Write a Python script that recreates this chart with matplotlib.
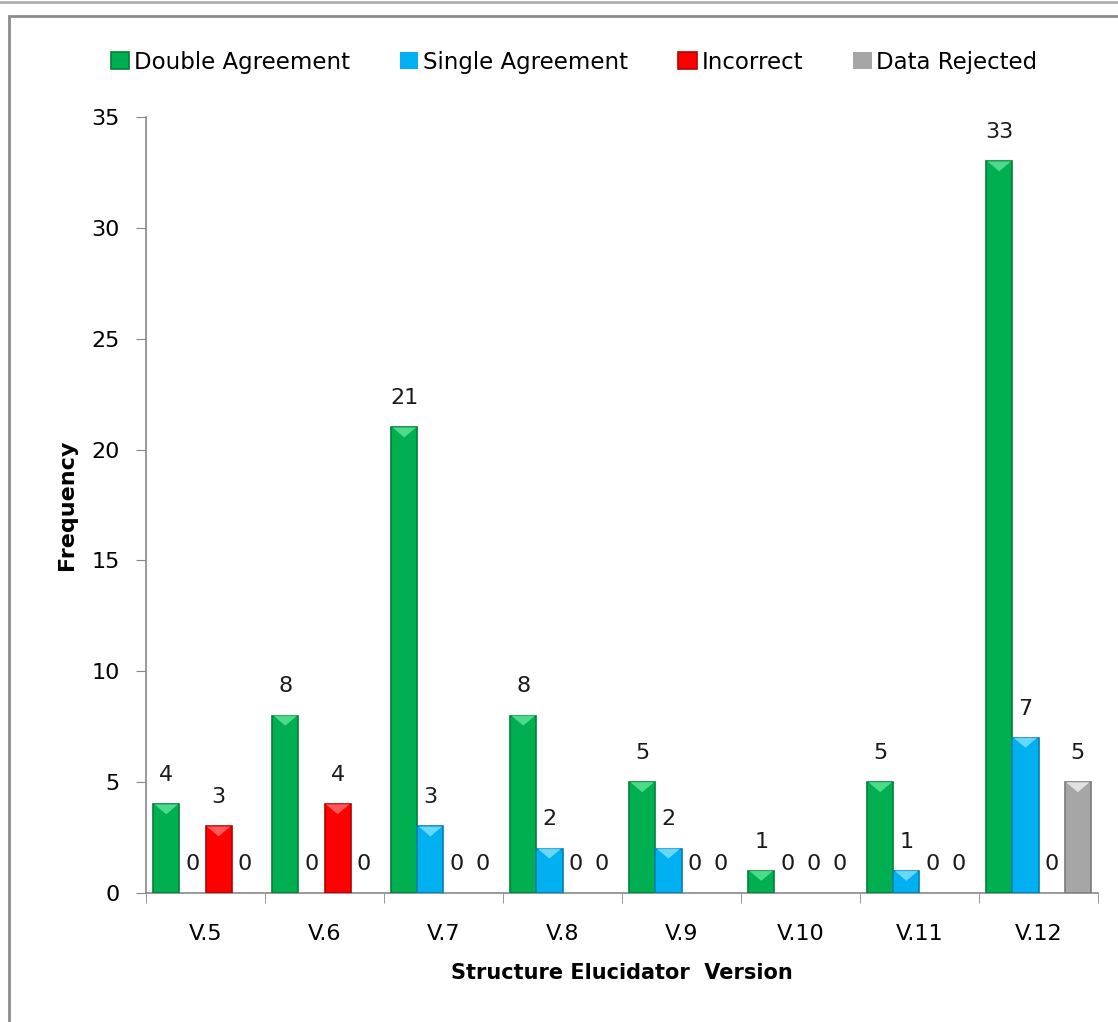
import numpy as np
import matplotlib.pyplot as plt
from matplotlib.patches import Rectangle, Polygon
from matplotlib.lines import Line2D

versions = ["V.5", "V.6", "V.7", "V.8", "V.9", "V.10", "V.11", "V.12"]
double_agreement = [4, 8, 21, 8, 5, 1, 5, 33]
single_agreement = [0, 0, 3, 2, 2, 0, 1, 7]
incorrect = [3, 4, 0, 0, 0, 0, 0, 0]
data_rejected = [0, 0, 0, 0, 0, 0, 0, 5]

series = [
    ("Double Agreement", double_agreement, "#00B050", "#00803a", "#5fe89a"),
    ("Single Agreement", single_agreement, "#00B0F0", "#0080b0", "#7fe3ff"),
    ("Incorrect", incorrect, "#FF0000", "#b80000", "#ff7070"),
    ("Data Rejected", data_rejected, "#A6A6A6", "#7a7a7a", "#f0f0f0"),
]

plt.rcParams["font.family"] = ["DejaVu Sans"]

fig = plt.figure(figsize=(11.18, 10.22), dpi=100)
ax = fig.add_axes([146 / 1118, 129 / 1022, (1098 - 146) / 1118, (905 - 129) / 1022])

# frame like the spreadsheet chart area
fig.patches.append(Rectangle((9 / 1118, -0.05), 1.2, (1022 - 16) / 1022 + 0.05,
                             transform=fig.transFigure, fill=False,
                             edgecolor="#8c8c8c", linewidth=2))
fig.add_artist(Line2D([0, 1], [1 - 2 / 1022, 1 - 2 / 1022], transform=fig.transFigure,
                      color="#b0b0b0", linewidth=2))

x = np.arange(len(versions))
width = 0.22
handles = []
for i, (name, vals, col, dark, light) in enumerate(series):
    pos = x + (i - 1.5) * width
    lw = [1.2 if v > 0 else 0 for v in vals]
    bars = ax.bar(pos, vals, width, color=col, edgecolor=dark, linewidth=lw,
                  label=name, zorder=3)
    handles.append(bars)
    for p, v in zip(pos, vals):
        if v > 0:
            # light chevron at the top of the bar
            tri = Polygon([(p - width * 0.45, v), (p + width * 0.45, v),
                           (p, v - 0.45)], closed=True, facecolor=light,
                          edgecolor="none", alpha=0.8, zorder=4)
            ax.add_patch(tri)
        ax.annotate(str(v), (p, v), xytext=(0, 21), textcoords="offset points",
                    ha="center", va="center", fontsize=16, color="#1a1a1a")

ax.set_xlim(-0.5, len(versions) - 0.5)
ax.set_ylim(0, 35)
ax.set_yticks(range(0, 36, 5))
ax.set_xticks(x)
ax.set_xticklabels(versions)
ax.set_xticks(np.arange(-0.5, len(versions), 1), minor=True)
ax.tick_params(axis="x", which="major", length=0, pad=22, labelsize=16)
ax.tick_params(axis="x", which="minor", length=7, color="#888888", direction="out")
ax.tick_params(axis="y", length=7, color="#888888", labelsize=16, pad=12)

for s in ["top", "right"]:
    ax.spines[s].set_visible(False)
ax.spines["left"].set_color("#888888")
ax.spines["bottom"].set_color("#888888")
ax.spines["left"].set_linewidth(1.2)
ax.spines["bottom"].set_linewidth(1.2)

ax.set_ylabel("Frequency", fontsize=16, fontweight="bold", labelpad=10)
ax.set_xlabel("Structure Elucidator  Version", fontsize=15, fontweight="bold", labelpad=14)

fig.legend(handles=handles, loc="center", bbox_to_anchor=(574 / 1118, 1 - 62 / 1022),
           ncol=4, frameon=False, fontsize=16.5, handlelength=0.8, handleheight=0.8,
           handletextpad=0.2, columnspacing=2.2)

plt.savefig("out.png", dpi=100)
